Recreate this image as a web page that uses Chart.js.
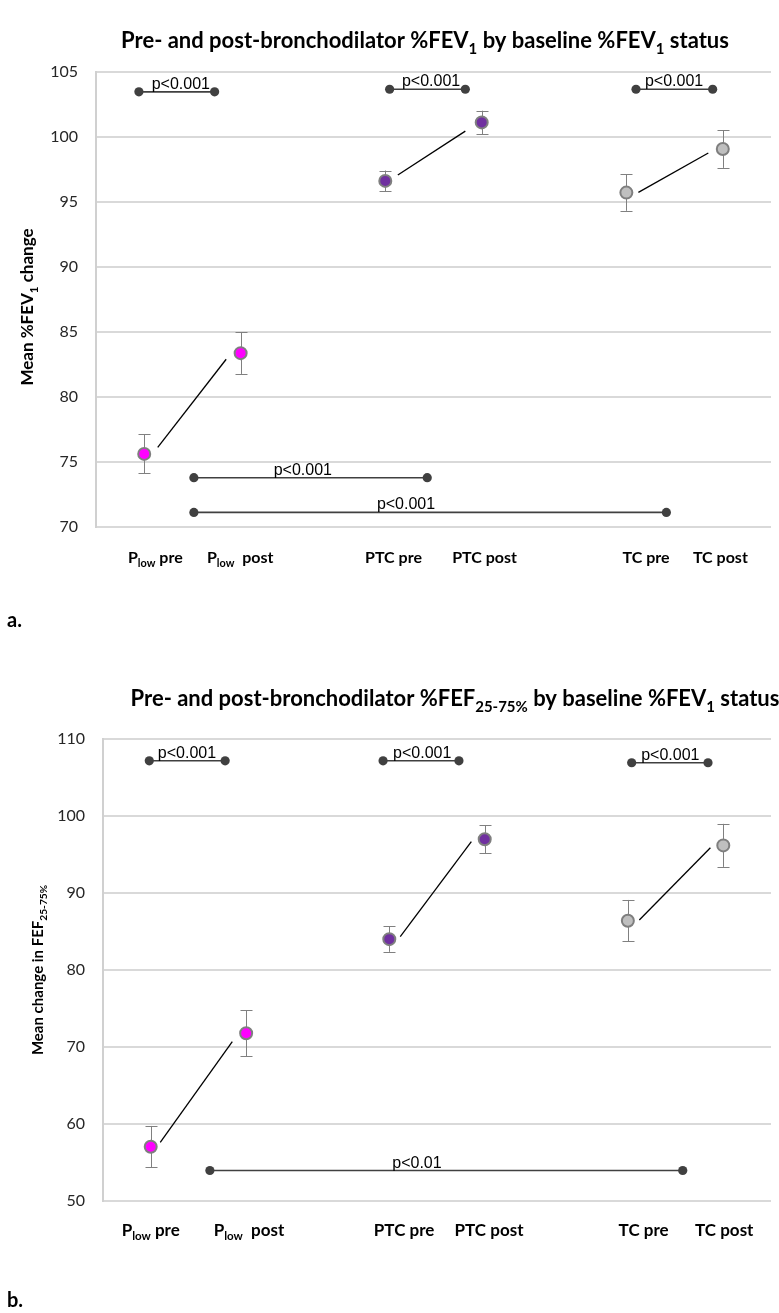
<!DOCTYPE html>
<html>
<head>
<meta charset="utf-8">
<script src="https://cdn.jsdelivr.net/npm/chart.js@4.4.1/dist/chart.umd.min.js"></script>
<style>
  html, body { margin: 0; padding: 0; background: #fff; }
  #wrap { position: relative; width: 779px; height: 1313px; overflow: hidden; background: #fff; }
  .panel { position: absolute; left: 0; width: 779px; }
  #pa { top: 0; height: 640px; }
  #pb { top: 640px; height: 673px; }
</style>
</head>
<body>
<div id="wrap">
  <div class="panel" id="pa"><canvas id="chartA" width="779" height="640"></canvas></div>
  <div class="panel" id="pb"><canvas id="chartB" width="779" height="673"></canvas></div>
</div>
<script>
// ---- data ----
// group labels (_{...} marks a subscript)
const categories = ['P_{low} pre', 'P_{low}  post', 'PTC pre', 'PTC post', 'TC pre', 'TC post'];
// position of each group on the horizontal axis
const categoryX = [1, 3, 6, 8, 11, 13];

// panel a: %FEV1, mean and error
const fev1Mean = [75.6, 83.35, 96.6, 101.1, 95.7, 99.05];
const fev1Err  = [1.5, 1.6, 0.8, 0.9, 1.4, 1.45];
const fev1Ticks = [70, 75, 80, 85, 90, 95, 100, 105];

// panel b: %FEF25-75, mean and error
const fefMean = [57.0, 71.75, 84.0, 97.0, 86.4, 96.2];
const fefErr  = [2.7, 3.0, 1.65, 1.8, 2.7, 2.8];
const fefTicks = [50, 60, 70, 80, 90, 100, 110];

// pre -> post connector segments [x1, y1, x2, y2]
const fev1Links = [[1.28, 76.1, 2.70, 82.88], [6.26, 97.05, 7.66, 100.43], [11.25, 95.72, 12.70, 98.75]];
const fefLinks  = [[1.20, 57.57, 2.71, 70.66], [6.23, 84.32, 7.72, 96.68], [11.24, 86.49, 12.73, 95.9]];

// significance brackets
const fev1PFrom  = [0.89, 6.09, 11.2, 2.03, 2.03];
const fev1PTo    = [2.46, 7.66, 12.79, 6.87, 11.83];
const fev1PLevel = [103.45, 103.65, 103.65, 73.77, 71.1];
const fev1PText  = ['p<0.001', 'p<0.001', 'p<0.001', 'p<0.001', 'p<0.001'];
const fev1PTextX = [1.76, 6.95, 11.99, 4.29, 6.43];

const fefPFrom  = [0.97, 5.87, 11.08, 2.24];
const fefPTo    = [2.56, 7.46, 12.68, 12.15];
const fefPLevel = [107.2, 107.2, 106.95, 53.9];
const fefPText  = ['p<0.001', 'p<0.001', 'p<0.001', 'p<0.01'];
const fefPTextX = [1.76, 6.69, 11.89, 6.58];

const titleA  = 'Pre- and post-bronchodilator %FEV_{1} by baseline %FEV_{1} status';
const titleB  = 'Pre- and post-bronchodilator %FEF_{25-75%} by baseline %FEV_{1} status';
const yTitleA = 'Mean %FEV_{1} change';
const yTitleB = 'Mean change in FEF_{25-75%}';

// ---- styling ----
const groupColors = ['#ff00ff', '#ff00ff', '#7030a0', '#7030a0', '#bfbfbf', '#bfbfbf'];
const FONT = 'Lato, "Open Sans", sans-serif';
const ARIAL = '"Liberation Sans", Arial, sans-serif';

// ---- text helpers (subscript aware) ----
function parseRich(s) {
  const out = []; const re = /_\{([^}]*)\}/g; let last = 0, m;
  while ((m = re.exec(s))) {
    if (m.index > last) out.push({ t: s.slice(last, m.index), sub: false });
    out.push({ t: m[1], sub: true });
    last = re.lastIndex;
  }
  if (last < s.length) out.push({ t: s.slice(last), sub: false });
  return out;
}
function drawRich(ctx, s, x, y, size, weight, color) {
  const segs = parseRich(s);
  const subSize = size * 0.68;
  const mainFont = `${weight} ${size}px ${FONT}`;
  const subFont = `${weight} ${subSize}px ${FONT}`;
  let total = 0;
  segs.forEach(g => { ctx.font = g.sub ? subFont : mainFont; g.w = ctx.measureText(g.t).width; total += g.w; });
  let cx = x - total / 2;
  ctx.fillStyle = color; ctx.textAlign = 'left'; ctx.textBaseline = 'alphabetic';
  segs.forEach(g => {
    ctx.font = g.sub ? subFont : mainFont;
    ctx.fillText(g.t, cx, y + (g.sub ? size * 0.26 : 0));
    cx += g.w;
  });
}

// ---- plugins ----
const errorBarPlugin = {
  id: 'errorBars',
  beforeDatasetsDraw(chart, args, o) {
    const { ctx, scales: { x, y } } = chart;
    ctx.save();
    ctx.strokeStyle = o.color; ctx.lineWidth = 1;
    o.xs.forEach((xv, i) => {
      const px = Math.round(x.getPixelForValue(xv)) + 0.5;
      const top = y.getPixelForValue(o.mean[i] + o.err[i]);
      const bot = y.getPixelForValue(o.mean[i] - o.err[i]);
      ctx.beginPath();
      ctx.moveTo(px, top); ctx.lineTo(px, bot);
      ctx.moveTo(px - o.cap, Math.round(top) + 0.5); ctx.lineTo(px + o.cap, Math.round(top) + 0.5);
      ctx.moveTo(px - o.cap, Math.round(bot) + 0.5); ctx.lineTo(px + o.cap, Math.round(bot) + 0.5);
      ctx.stroke();
    });
    ctx.restore();
  }
};

const pLabelPlugin = {
  id: 'pLabels',
  afterDatasetsDraw(chart, args, o) {
    const { ctx, scales: { x, y } } = chart;
    ctx.save();
    ctx.font = `16px ${ARIAL}`; ctx.fillStyle = '#000';
    ctx.textAlign = 'center'; ctx.textBaseline = 'alphabetic';
    o.texts.forEach((t, i) => {
      ctx.fillText(t, x.getPixelForValue(o.xs[i]), y.getPixelForValue(o.levels[i]) - o.lift);
    });
    ctx.restore();
  }
};

const panelTextPlugin = {
  id: 'panelText',
  afterDraw(chart, args, o) {
    const { ctx, scales: { x } } = chart;
    ctx.save();
    // title
    drawRich(ctx, o.title.text, o.title.x, o.title.y, o.title.size, 'bold', '#000');
    // vertical axis title
    ctx.save();
    ctx.translate(o.yTitle.x, o.yTitle.y);
    ctx.rotate(-Math.PI / 2);
    drawRich(ctx, o.yTitle.text, 0, o.yTitle.size * 0.36, o.yTitle.size, 'bold', '#000');
    ctx.restore();
    // group labels under the plot
    o.xLabels.texts.forEach((t, i) => {
      drawRich(ctx, t, x.getPixelForValue(o.xLabels.xs[i]), o.xLabels.y, o.xLabels.size, 'bold', '#000');
    });
    // panel tag
    ctx.font = `bold ${o.tag.size}px ${FONT}`;
    ctx.fillStyle = '#000'; ctx.textAlign = 'left'; ctx.textBaseline = 'alphabetic';
    ctx.fillText(o.tag.text, o.tag.x, o.tag.y);
    ctx.restore();
  }
};

function buildDatasets(mean, links, pFrom, pTo, pLevel) {
  const ds = [];
  ds.push({
    data: categoryX.map((xv, i) => ({ x: xv, y: mean[i] })),
    showLine: false,
    pointRadius: 6, pointHoverRadius: 6,
    pointBackgroundColor: groupColors,
    pointBorderColor: '#7f7f7f', pointBorderWidth: 2
  });
  links.forEach(l => ds.push({
    data: [{ x: l[0], y: l[1] }, { x: l[2], y: l[3] }],
    showLine: true, borderColor: '#000', borderWidth: 1.3, pointRadius: 0
  }));
  pFrom.forEach((f, i) => ds.push({
    data: [{ x: f, y: pLevel[i] }, { x: pTo[i], y: pLevel[i] }],
    showLine: true, borderColor: '#404040', borderWidth: 1.6,
    pointRadius: 4.6, pointHoverRadius: 4.6,
    pointBackgroundColor: '#404040', pointBorderColor: '#404040', pointBorderWidth: 0
  }));
  return ds;
}

function makeChart(id, p) {
  return new Chart(document.getElementById(id), {
    type: 'scatter',
    data: { datasets: buildDatasets(p.mean, p.links, p.pFrom, p.pTo, p.pLevel) },
    options: {
      responsive: false, animation: false, devicePixelRatio: 1,
      layout: { padding: { top: p.top, bottom: p.bottom, left: 0, right: 0 } },
      scales: {
        x: { type: 'linear', min: 0, max: 14, display: false },
        y: {
          type: 'linear', min: p.ticks[0], max: p.ticks[p.ticks.length - 1],
          afterBuildTicks: s => { s.ticks = p.ticks.map(v => ({ value: v })); },
          afterFit: s => { s.width = p.axisW; },
          ticks: { padding: 18, color: '#262626', font: { family: FONT, size: 16 } },
          grid: { color: '#d9d9d9', lineWidth: 2, drawTicks: false },
          border: { color: '#d0d0d0', width: 2 }
        }
      },
      plugins: {
        legend: { display: false },
        tooltip: { enabled: false },
        errorBars: { xs: categoryX, mean: p.mean, err: p.err, color: '#808080', cap: 6 },
        pLabels: { texts: p.pText, xs: p.pTextX, levels: p.pLevel, lift: 3 },
        panelText: p.text
      }
    },
    plugins: [errorBarPlugin, pLabelPlugin, panelTextPlugin]
  });
}

makeChart('chartA', {
  mean: fev1Mean, err: fev1Err, ticks: fev1Ticks, links: fev1Links,
  pFrom: fev1PFrom, pTo: fev1PTo, pLevel: fev1PLevel, pText: fev1PText, pTextX: fev1PTextX,
  top: 71.7, bottom: 640 - 526.7, axisW: 96,
  text: {
    title: { text: titleA, x: 425, y: 48, size: 22 },
    yTitle: { text: yTitleA, x: 27, y: 307, size: 17 },
    xLabels: { texts: categories, xs: [1.23, 2.99, 6.17, 8.06, 11.41, 12.95], y: 563, size: 16 },
    tag: { text: 'a.', x: 7, y: 627, size: 20 }
  }
});

makeChart('chartB', {
  mean: fefMean, err: fefErr, ticks: fefTicks, links: fefLinks,
  pFrom: fefPFrom, pTo: fefPTo, pLevel: fefPLevel, pText: fefPText, pTextX: fefPTextX,
  top: 99.3, bottom: 673 - 560.5, axisW: 103,
  text: {
    title: { text: titleB, x: 455, y: 66, size: 22 },
    yTitle: { text: yTitleB, x: 38, y: 330, size: 15 },
    xLabels: { texts: categories, xs: [1.0, 3.06, 6.31, 8.09, 11.33, 13.02], y: 596, size: 17 },
    tag: { text: 'b.', x: 7, y: 667, size: 20 }
  }
});
</script>
</body>
</html>
